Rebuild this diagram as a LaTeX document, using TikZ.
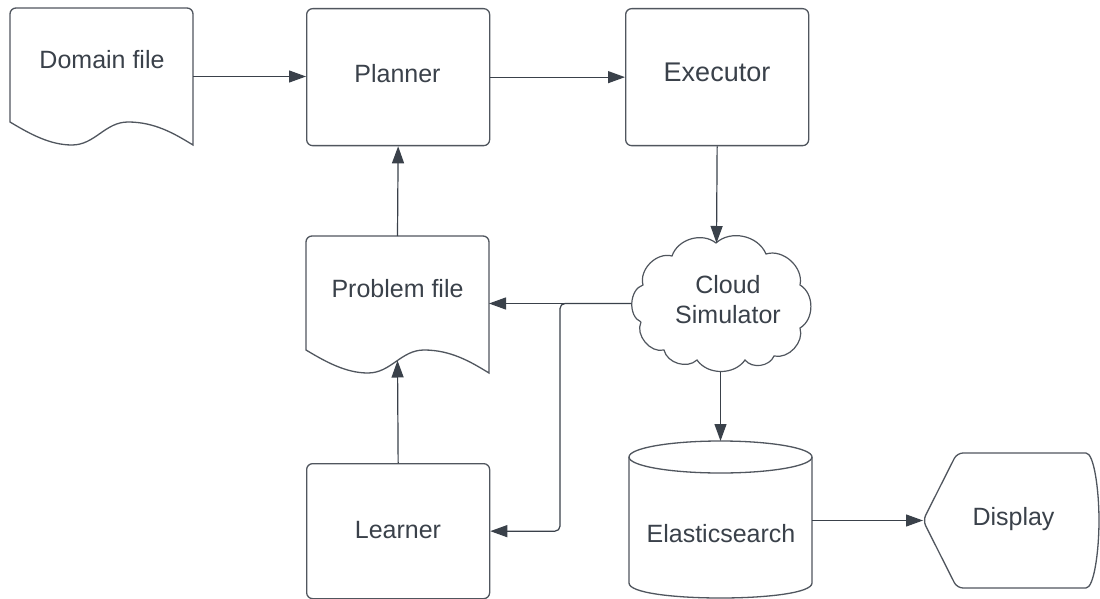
\documentclass[tikz,border=0pt]{standalone}
\usepackage{fontspec}
\setmainfont{Liberation Sans}
\usetikzlibrary{arrows.meta,calc}
\definecolor{ink}{HTML}{3A414A}
\definecolor{edge}{HTML}{50565E}

\tikzset{
  outline/.style={draw=edge, line width=1.3pt},
  block/.style={outline, rounded corners=6pt, minimum width=183pt, minimum height=137pt,
                anchor=north west, inner sep=0pt},
  lbl/.style={text=ink, anchor=base, inner sep=0pt, align=center,
              font=\fontsize{25}{30}\selectfont},
  flow/.style={draw=ink, line width=1.2pt, -{Triangle[length=17pt,width=12pt]}},
}

% document symbol with a wavy lower edge; #1,#2 = top-left corner
\newcommand\docshape[2]{%
  \draw[outline, shift={(#1,#2)}]
    (0,114) -- (0,6) .. controls (0,2.7) and (2.7,0) .. (6,0)
    -- (177,0) .. controls (180.3,0) and (183,2.7) .. (183,6)
    -- (183,137) .. controls (165,126) and (145,114) .. (118,114)
    .. controls (95,114) and (85,137) .. (62,137)
    .. controls (40,137) and (20,126) .. (0,114) -- cycle;}

\begin{document}
\begin{tikzpicture}[x=1pt,y=-1pt]
\fill[white] (0,0) rectangle (1100,599);
\useasboundingbox (0,0) rectangle (1100,599);

% ---- process boxes
\node[block] (planner) at (306,8) {};
\node[block] (executor) at (625,8) {};
\node[block, minimum height=135pt] (learner) at (306,463) {};

% ---- document symbols
\docshape{10}{8}
\docshape{306}{236}
\coordinate (domain-e) at (193,76.5);
\coordinate (problem-n) at (397.5,236);
\coordinate (problem-s) at (397.5,360.5);
\coordinate (problem-e) at (489,303.5);

% ---- cloud
\draw[outline, line width=1.2pt]
  (641,322) to[bend left=70] (643,285) to[bend left=60] (672,256)
  to[bend left=55] (716,243) to[bend left=55] (766,254)
  to[bend left=60] (800,285) to[bend left=60] (800,328)
  to[bend left=60] (774,356) to[bend left=60] (745,360)
  to[bend left=55] (697,360) to[bend left=60] (664,350)
  to[bend left=65] (641,322);
\coordinate (cloud-n) at (716.5,243);
\coordinate (cloud-w) at (631,303.5);
\coordinate (cloud-s) at (720.5,371.5);
\coordinate (split) at (560,303.5);

% ---- database cylinder
\draw[outline] (720.5,457) ellipse [x radius=91.5, y radius=16];
\draw[outline] (629,457) -- (629,583) .. controls (629,603) and (812,603) .. (812,583) -- (812,457);
\coordinate (elastic-n) at (720.5,441);
\coordinate (elastic-e) at (812,520.5);

% ---- display symbol
\draw[outline, rounded corners=6pt] (1086,588) -- (957,588) -- (923,520.5) -- (957,453) -- (1086,453);
\draw[outline] (1086,453) .. controls (1094,453) and (1099,490) .. (1099,520.5)
  .. controls (1099,551) and (1094,588) .. (1086,588);
\coordinate (display-w) at (923,520.5);

% ---- labels
\node[lbl] (domain) at (102,69) {Domain file};
\node[lbl] (planner-t) at (397.5,83) {Planner};
\node[lbl, font=\fontsize{27}{32}\selectfont] (executor-t) at (717,82) {Executor};
\node[lbl] (problem) at (397.5,297) {Problem file};
\node[lbl, anchor=center] (cloud) at (728,300) {Cloud\\Simulator};
\node[lbl] (learner-t) at (398,538) {Learner};
\node[lbl] (elastic) at (721,542) {Elasticsearch};
\node[lbl] (display) at (1013.5,525) {Display};

% ---- connectors
\draw[flow] (domain-e) -- (planner.west |- domain-e);
\draw[flow] (planner.east) -- (executor.west);
\draw[flow] (problem-n) -- (planner.south);
\draw[flow] (learner.north) -- (problem-s);
\draw[flow] (executor.south) -- (cloud-n);
\draw[flow] (cloud-w) -- (problem-e);
\draw[flow, rounded corners=5pt] (cloud-w) -- (split) -- (split |- learner.east) -- (learner.east);
\draw[flow] (cloud-s) -- (elastic-n);
\draw[flow] (elastic-e) -- (display-w);
\end{tikzpicture}
\end{document}
